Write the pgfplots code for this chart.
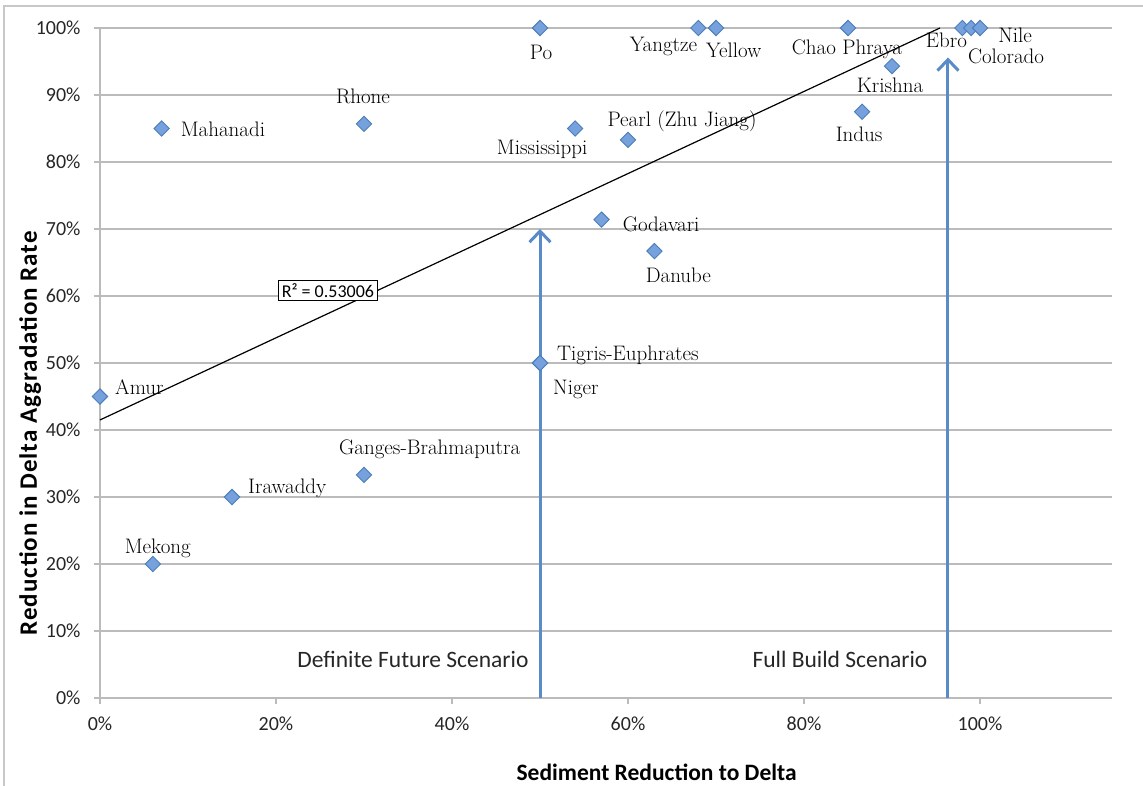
\documentclass[border=0pt]{standalone}
\usepackage{pgfplots}
\pgfplotsset{compat=1.18}
\usepackage{fontspec}
\usetikzlibrary{arrows.meta}
\newfontfamily\calib{Carlito}

\definecolor{gridgray}{RGB}{187,187,187}
\definecolor{framegray}{RGB}{200,200,200}
\definecolor{markfill}{RGB}{118,161,220}
\definecolor{markedge}{RGB}{74,126,187}
\definecolor{arrowblue}{RGB}{88,139,200}

\newcommand{\lbl}{\fontsize{21}{25}\selectfont\addfontfeatures{FakeBold=1.5}}

\begin{document}
\begin{tikzpicture}
\begin{axis}[
  scale only axis,
  width=1012pt, height=670pt,
  xmin=0, xmax=1.15, ymin=0, ymax=1,
  axis lines*=left,
  axis line style={gridgray, line width=1.5pt},
  tick align=outside,
  major tick length=6pt,
  tick style={gridgray, line width=1.3pt},
  xtick={0,0.2,0.4,0.6,0.8,1},
  xticklabels={0\%,20\%,40\%,60\%,80\%,100\%},
  ytick={0,0.1,0.2,0.3,0.4,0.5,0.6,0.7,0.8,0.9,1},
  yticklabels={0\%,10\%,20\%,30\%,40\%,50\%,60\%,70\%,80\%,90\%,100\%},
  ymajorgrids,
  grid style={gridgray, line width=1.5pt},
  tick label style={font=\calib\fontsize{20}{24}\selectfont, text=black!85},
  xticklabel style={yshift=-9pt},
  yticklabel style={xshift=-10pt},
  clip=false,
]
\coordinate (O) at (rel axis cs:0,0);

% linear trend of all deltas, cut where it reaches the 100% line
\addplot[black, line width=1.2pt] coordinates {(0,0.415) (0.9545,1.0)};

% dam-building scenarios
\addplot[arrowblue, line width=3pt, -{Straight Barb[length=11pt,width=21pt]}]
  coordinates {(0.5,0) (0.5,0.70)};
\addplot[arrowblue, line width=3pt, -{Straight Barb[length=11pt,width=21pt]}]
  coordinates {(0.9636,0) (0.9636,0.956)};

% deltas: sediment reduction vs. reduction in aggradation rate
\addplot[only marks, mark=square*, mark size=5.4pt,
  mark options={rotate=45, fill=markfill, draw=markedge, line width=0.9pt}]
  table {
x      y
0      0.45
0.07   0.85
0.30   0.857
0.06   0.20
0.15   0.30
0.30   0.333
0.50   1.00
0.54   0.85
0.60   0.833
0.57   0.714
0.63   0.667
0.50   0.50
0.50   0.50
0.68   1.00
0.70   1.00
0.85   1.00
0.90   0.943
0.866  0.875
0.98   1.00
0.99   1.00
1.00   1.00
};

\begin{scope}[every node/.style={font=\lbl, inner sep=0pt}]
\node[anchor=base west] at ([shift={(15pt,2pt)}]axis cs:0,0.45) {Amur};
\node[anchor=base west] at ([shift={(19pt,-8pt)}]axis cs:0.07,0.85) {Mahanadi};
\node[anchor=base] at ([shift={(-1pt,20pt)}]axis cs:0.30,0.857) {Rhone};
\node[anchor=base] at ([shift={(5pt,11pt)}]axis cs:0.06,0.20) {Mekong};
\node[anchor=base west] at ([shift={(16pt,4pt)}]axis cs:0.15,0.30) {Irawaddy};
\node[anchor=base west] at ([shift={(-25pt,20pt)}]axis cs:0.30,0.333) {Ganges-Brahmaputra};
\node[anchor=base] at ([shift={(1pt,-32pt)}]axis cs:0.50,1) {Po};
\node[anchor=base east] at ([shift={(-1pt,-24pt)}]axis cs:0.68,1) {Yangtze};
\node[anchor=base west] at ([shift={(-10pt,-30pt)}]axis cs:0.70,1) {Yellow};
\node[anchor=base] at ([shift={(-1pt,-27pt)}]axis cs:0.85,1) {Chao Phraya};
\node[anchor=base] at ([shift={(-2pt,-26pt)}]axis cs:0.90,0.943) {Krishna};
\node[anchor=base] at ([shift={(-3pt,-30pt)}]axis cs:0.866,0.875) {Indus};
\node[anchor=base] at ([shift={(-16pt,-20pt)}]axis cs:0.98,1) {Ebro};
\node[anchor=base] at ([shift={(44pt,-15pt)}]axis cs:0.99,1) {Nile};
\node[anchor=base] at ([shift={(26pt,-36pt)}]axis cs:1.0,1) {Colorado};
\node[anchor=base] at ([shift={(-33pt,-26pt)}]axis cs:0.54,0.85) {Mississippi};
\node[anchor=base] at ([shift={(54pt,13pt)}]axis cs:0.60,0.833) {Pearl (Zhu Jiang)};
\node[anchor=base west] at ([shift={(21pt,-12pt)}]axis cs:0.57,0.714) {Godavari};
\node[anchor=base] at ([shift={(24pt,-31pt)}]axis cs:0.63,0.667) {Danube};
\node[anchor=base west] at ([shift={(17pt,3pt)}]axis cs:0.50,0.50) {Tigris-Euphrates};
\node[anchor=base west] at ([shift={(13pt,-31pt)}]axis cs:0.50,0.50) {Niger};
\end{scope}

\node[draw=black, line width=0.9pt, fill=white, inner sep=3pt,
  font=\calib\fontsize{18}{21}\selectfont]
  at (axis cs:0.259,0.608) {R² = 0.53006};

\node[anchor=base east, font=\calib\fontsize{23.5}{28}\selectfont, text=black!85]
  at ([shift={(-8pt,31pt)}]axis cs:0.5,0) {Definite Future Scenario};
\node[anchor=base east, font=\calib\fontsize{23.5}{28}\selectfont, text=black!85]
  at ([shift={(-17pt,31pt)}]axis cs:0.9636,0) {Full Build Scenario};

% axis titles
\node[anchor=base, font=\calib\bfseries\fontsize{23.5}{28}\selectfont]
  at ([yshift=-82pt]rel axis cs:0.55,0) {Sediment Reduction to Delta};
\node[anchor=base, rotate=90,
  font=\calib\bfseries\fontsize{25}{30}\selectfont\addfontfeatures{LetterSpace=4}]
  at ([xshift=-63pt]rel axis cs:0,0.395) {Reduction in Delta Aggradation Rate};
\end{axis}

% chart-area border
\draw[framegray, line width=1.2pt]
  ([shift={(-96pt,-200pt)}]O) -- ([shift={(-96pt,692pt)}]O) -- ([shift={(1200pt,692pt)}]O);

\pgfresetboundingbox
\path[use as bounding box] ([shift={(-100pt,-87pt)}]O) rectangle ([shift={(1043pt,698pt)}]O);
\end{tikzpicture}
\end{document}
